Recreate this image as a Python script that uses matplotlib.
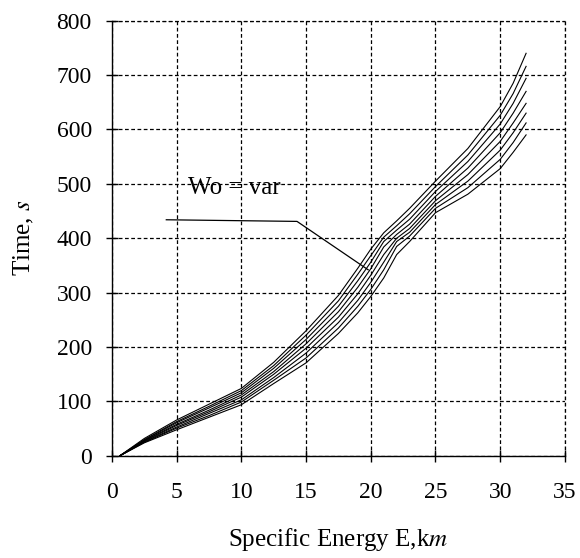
import numpy as np
import matplotlib.pyplot as plt

plt.rcParams['font.family'] = ['Liberation Serif', 'DejaVu Serif']
plt.rcParams['mathtext.fontset'] = 'stix'

# specific energy grid (km)
E = [0.6, 2.5, 5, 7.5, 10, 12.5, 15, 17.5, 19, 20, 21, 22, 23, 25, 27.5, 30, 31, 32]

# time (s) for each Wo curve, top to bottom
t1 = [0, 32, 66, 95, 124, 172, 230, 295, 345, 380, 410, 432, 455, 505, 565, 642, 685, 740]
t2 = [0, 30, 63, 91, 120, 166, 222, 285, 334, 368, 402, 423, 445, 495, 553, 626, 666, 716]
t3 = [0, 29, 61, 88, 116, 161, 214, 275, 322, 356, 394, 415, 435, 486, 541, 610, 648, 694]
t4 = [0, 28, 58, 84, 112, 155, 206, 265, 310, 344, 384, 407, 426, 477, 529, 594, 630, 670]
t5 = [0, 27, 56, 81, 108, 150, 198, 255, 298, 332, 370, 400, 418, 469, 517, 578, 612, 648]
t6 = [0, 26, 53, 78, 103, 144, 189, 245, 286, 319, 356, 394, 411, 462, 505, 562, 594, 630]
t7 = [0, 25, 51, 74, 99, 139, 180, 235, 275, 306, 342, 385, 404, 455, 493, 545, 576, 612]
t8 = [0, 24, 48, 71, 94, 133, 171, 225, 263, 293, 327, 370, 394, 447, 481, 528, 558, 590]
curves = [t1, t2, t3, t4, t5, t6, t7, t8]

# leader line for the label
lead_x = [4.2, 14.3, 19.8]
lead_y = [434, 431, 342]

fig = plt.figure(figsize=(5.8, 5.58), dpi=100)
ax = fig.add_axes([0.193, 0.183, 0.781, 0.78])

for t in curves:
    ax.plot(E, t, color='black', lw=0.8)

ax.plot(lead_x, lead_y, color='black', lw=0.9)
ax.text(5.9, 492, 'Wo = var', fontsize=18, va='center', ha='left')

ax.set_xlim(0, 35)
ax.set_ylim(0, 800)
ax.set_xticks(np.arange(0, 36, 5))
ax.set_yticks(np.arange(0, 801, 100))
ax.tick_params(direction='inout', length=9, width=1, labelsize=17)
ax.tick_params(axis='x', pad=14)
ax.tick_params(axis='y', pad=10)
ax.grid(True, color='black', linestyle=(0, (3, 2)), lw=0.9)
ax.spines['top'].set_visible(False)
ax.spines['right'].set_visible(False)
ax.spines['left'].set_linewidth(1.0)
ax.spines['bottom'].set_linewidth(1.0)
# dashed border on top and right like the grid
ax.axhline(800, color='black', linestyle=(0, (3, 2)), lw=0.9, clip_on=False)
ax.axvline(35, color='black', linestyle=(0, (3, 2)), lw=0.9, clip_on=False)

ax.set_xlabel('Specific Energy E,k$\\mathit{m}$', fontsize=18, labelpad=17)
ax.set_ylabel('Time, $\\mathit{s}$', fontsize=18, labelpad=15)

fig.savefig('out.png', dpi=100)
